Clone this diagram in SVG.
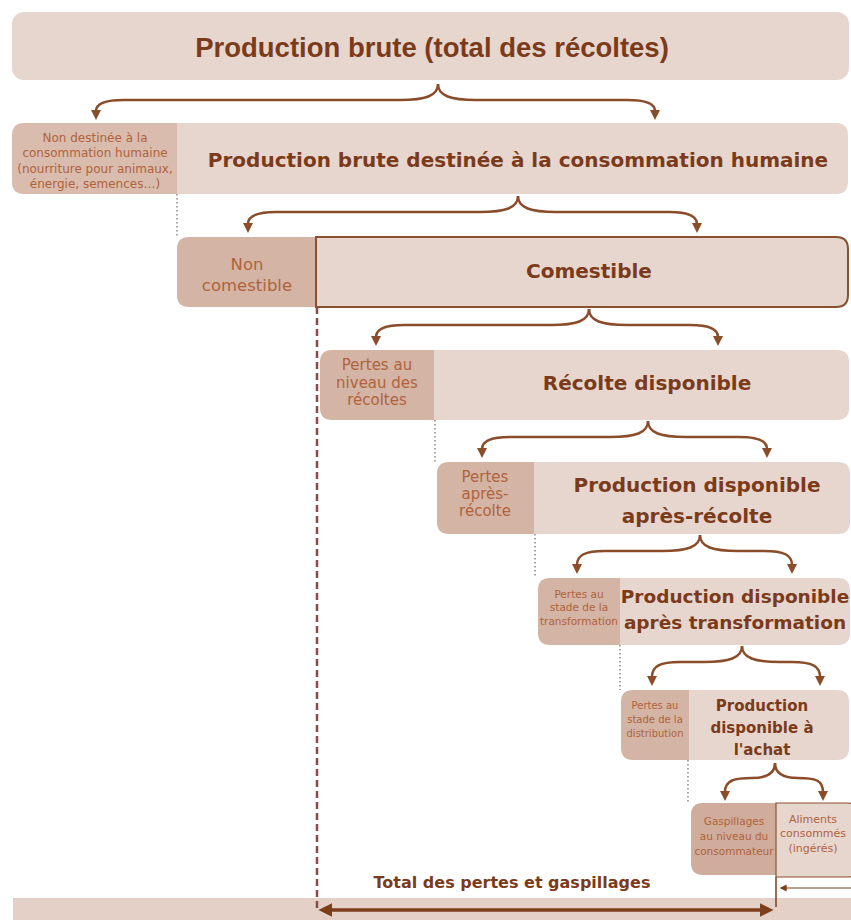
<svg xmlns="http://www.w3.org/2000/svg" width="851" height="920" viewBox="0 0 851 920">
<defs>
<style>
.lt{fill:#e7d6ce}
.dk{fill:#d3b4a5}
.t{font-family:"DejaVu Sans","Liberation Sans",sans-serif;font-weight:bold;fill:#7b3b1b;text-anchor:middle}
.s{font-family:"DejaVu Sans","Liberation Sans",sans-serif;fill:#b0633a;text-anchor:middle}
.br{fill:none;stroke:#8b4c2a;stroke-width:2.5;marker-end:url(#ah)}
.dot{fill:none;stroke:#7a6a66;stroke-width:1.2;stroke-dasharray:1.5 2.5}
</style>
<marker id="ah" viewBox="0 0 10 10" refX="1" refY="5" markerWidth="10" markerHeight="10" markerUnits="userSpaceOnUse" orient="auto"><path d="M0,0 L10,5 L0,10 Z" fill="#8b4c2a"/></marker>
<marker id="big" viewBox="0 0 10 10" refX="1" refY="5" markerWidth="14" markerHeight="14" markerUnits="userSpaceOnUse" orient="auto-start-reverse"><path d="M0,0 L10,5 L0,10 Z" fill="#7d3e1c"/></marker>
<marker id="sm" viewBox="0 0 10 10" refX="1" refY="5" markerWidth="7" markerHeight="7" markerUnits="userSpaceOnUse" orient="auto"><path d="M0,0 L10,5 L0,10 Z" fill="#7d3e1c"/></marker>
</defs>
<rect width="851" height="920" fill="#ffffff"/>

<g id="n-production-brute">
<rect x="12" y="12" width="837" height="68" rx="12" class="lt"/>
<text x="432" y="57" style="font-family:'Liberation Sans',Arial,sans-serif;font-weight:bold;font-size:27.5px;fill:#7b3b1b;text-anchor:middle">Production brute (total des récoltes)</text>
</g>

<g id="n-non-destinee">
<path d="M24,123 H177 V194 H24 Q12,194 12,182 V135 Q12,123 24,123 Z" fill="#d9bcae"/>
<text class="s" font-size="12" x="95"><tspan x="95" y="142">Non destinée à la</tspan><tspan x="95" y="157">consommation humaine</tspan><tspan x="95" y="173">(nourriture pour animaux,</tspan><tspan x="95" y="188">énergie, semences…)</tspan></text>
</g>
<g id="n-destinee">
<path d="M177,123 H836 Q848,123 848,135 V182 Q848,194 836,194 H177 Z" class="lt"/>
<text class="t" font-size="20" x="518" y="167">Production brute destinée à la consommation humaine</text>
</g>

<g id="n-non-comestible">
<path d="M189,237 H316 V307 H189 Q177,307 177,295 V249 Q177,237 189,237 Z" class="dk"/>
<text class="s" font-size="16.5"><tspan x="247" y="270">Non</tspan><tspan x="247" y="291">comestible</tspan></text>
</g>
<g id="n-comestible">
<path d="M316,237 H836 Q848,237 848,249 V295 Q848,307 836,307 H316 Z" class="lt" stroke="#8b5030" stroke-width="2"/>
<text class="t" font-size="20" x="589" y="278">Comestible</text>
</g>

<g id="n-pertes-recoltes">
<path d="M332,350 H434 V420 H332 Q320,420 320,408 V362 Q320,350 332,350 Z" class="dk"/>
<text class="s" font-size="15"><tspan x="377" y="370">Pertes au</tspan><tspan x="377" y="388">niveau des</tspan><tspan x="377" y="405">récoltes</tspan></text>
</g>
<g id="n-recolte-disponible">
<path d="M434,350 H837 Q849,350 849,362 V408 Q849,420 837,420 H434 Z" class="lt"/>
<text class="t" font-size="20" x="647" y="390">Récolte disponible</text>
</g>

<g id="n-pertes-apres-recolte">
<path d="M449,462 H534 V534 H449 Q437,534 437,522 V474 Q437,462 449,462 Z" class="dk"/>
<text class="s" font-size="15"><tspan x="485" y="482">Pertes</tspan><tspan x="485" y="499">après-</tspan><tspan x="485" y="516">récolte</tspan></text>
</g>
<g id="n-prod-apres-recolte">
<path d="M534,462 H838 Q850,462 850,474 V522 Q850,534 838,534 H534 Z" class="lt"/>
<text class="t" font-size="20"><tspan x="697" y="492">Production disponible</tspan><tspan x="697" y="523">après-récolte</tspan></text>
</g>

<g id="n-pertes-transformation">
<path d="M550,578 H620 V645 H550 Q538,645 538,633 V590 Q538,578 550,578 Z" class="dk"/>
<text class="s" font-size="10.5"><tspan x="579" y="598">Pertes au</tspan><tspan x="579" y="611">stade de la</tspan><tspan x="579" y="625">transformation</tspan></text>
</g>
<g id="n-prod-apres-transformation">
<path d="M620,578 H838 Q850,578 850,590 V633 Q850,645 838,645 H620 Z" class="lt"/>
<text class="t" font-size="18.5"><tspan x="735" y="603">Production disponible</tspan><tspan x="735" y="629">après transformation</tspan></text>
</g>

<g id="n-pertes-distribution">
<path d="M633,690 H689 V760 H633 Q621,760 621,748 V702 Q621,690 633,690 Z" class="dk"/>
<text class="s" font-size="10"><tspan x="655" y="709">Pertes au</tspan><tspan x="655" y="723">stade de la</tspan><tspan x="655" y="737">distribution</tspan></text>
</g>
<g id="n-prod-achat">
<path d="M689,690 H837 Q849,690 849,702 V748 Q849,760 837,760 H689 Z" class="lt"/>
<text class="t" font-size="15"><tspan x="762" y="711">Production</tspan><tspan x="762" y="733">disponible à</tspan><tspan x="762" y="755">l'achat</tspan></text>
</g>

<g id="n-gaspillages">
<path d="M703,803 H776 V875 H703 Q691,875 691,863 V815 Q691,803 703,803 Z" fill="#cfac9c"/>
<text class="s" font-size="10.5"><tspan x="734" y="825">Gaspillages</tspan><tspan x="734" y="840">au niveau du</tspan><tspan x="734" y="855">consommateur</tspan></text>
</g>
<g id="n-aliments">
<path d="M776,803 H848 Q858,803 858,813 V867 Q858,877 848,877 H776 Z" class="lt" stroke="#8b5030" stroke-width="1.2"/>
<text class="s" font-size="11"><tspan x="813" y="823">Aliments</tspan><tspan x="813" y="837">consommés</tspan><tspan x="813" y="852">(ingérés)</tspan></text>
</g>

<g id="n-total-band">
<rect x="13" y="898" width="845" height="30" fill="#e4d0c6"/>
</g>

<g id="connectors">
<path class="br" d="M438,84 C438,96 425,100 400,100 L124,100 C104,100 96,104 96,111"/>
<path class="br" d="M438,84 C438,96 451,100 476,100 L627,100 C647,100 655,104 655,111"/>
<path class="br" d="M518,196 C518,208 505,212 480,212 L276,212 C256,212 248,216 248,224"/>
<path class="br" d="M518,196 C518,208 531,212 556,212 L669,212 C689,212 697,216 697,224"/>
<path class="br" d="M589,309 C589,321 576,325 551,325 L404,325 C384,325 376,329 376,337"/>
<path class="br" d="M589,309 C589,321 602,325 627,325 L690,325 C710,325 718,329 718,337"/>
<path class="br" d="M648,421 C648,433 635,437 610,437 L510,437 C490,437 482,441 482,449"/>
<path class="br" d="M648,421 C648,433 661,437 686,437 L739,437 C759,437 767,441 767,449"/>
<path class="br" d="M700,535 C700,547 687,551 662,551 L605,551 C585,551 577,555 577,565"/>
<path class="br" d="M700,535 C700,547 713,551 738,551 L764,551 C784,551 792,555 792,565"/>
<path class="br" d="M742,646 C742,658 729,662 704,662 L680,662 C660,662 652,666 652,677"/>
<path class="br" d="M742,646 C742,658 755,662 780,662 L792,662 C812,662 820,666 820,677"/>
<path class="br" d="M775,763 C775,774 765,778 752,778 C735,778 725,780 725,792"/>
<path class="br" d="M775,763 C775,774 785,778 798,778 C815,778 823,780 823,792"/>

<line class="dot" x1="177" y1="194" x2="177" y2="237"/>
<line class="dot" x1="435" y1="420" x2="435" y2="462"/>
<line class="dot" x1="535" y1="534" x2="535" y2="578"/>
<line class="dot" x1="620" y1="645" x2="620" y2="690"/>
<line class="dot" x1="688" y1="760" x2="688" y2="803"/>
<line x1="317" y1="307" x2="317" y2="910" stroke="#8b4a4a" stroke-width="2.5" stroke-dasharray="7 4"/>
<line x1="776" y1="877" x2="776" y2="907" stroke="#7d3e1c" stroke-width="1.5"/>
<line x1="851" y1="888" x2="786" y2="888" stroke="#7d3e1c" stroke-width="1" marker-end="url(#sm)"/>
<line x1="331" y1="910" x2="761" y2="910" stroke="#7d3e1c" stroke-width="3.5" marker-start="url(#big)" marker-end="url(#big)"/>
</g>

<text class="t" font-size="16" x="512" y="888">Total des pertes et gaspillages</text>
</svg>
